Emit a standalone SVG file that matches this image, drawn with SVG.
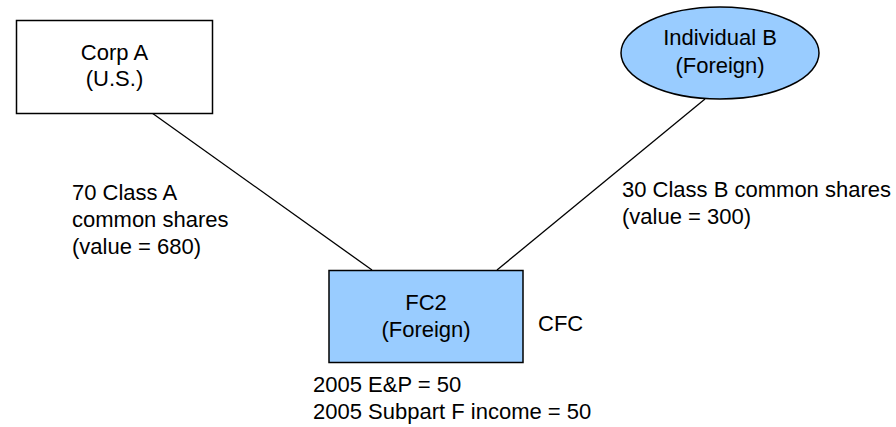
<svg xmlns="http://www.w3.org/2000/svg" width="896" height="427" viewBox="0 0 896 427">
<style>
text{font-family:"Liberation Sans",Arial,sans-serif;font-size:22px;fill:#000}
.c{text-anchor:middle}
.n{stroke:#000;stroke-width:1.5}
.e{stroke:#000;stroke-width:1.3;fill:none}
</style>
<rect width="896" height="427" fill="#fff"/>
<g id="connectors">
<line class="e" x1="152" y1="113" x2="372" y2="270"/>
<line class="e" x1="705" y1="99" x2="497" y2="270"/>
</g>
<g id="corpA">
<rect class="n" x="16.5" y="20.5" width="196" height="93" fill="#fff"/>
<text class="c" x="114.5" y="60">Corp A</text>
<text class="c" x="114.5" y="86">(U.S.)</text>
</g>
<g id="individualB">
<ellipse class="n" cx="720" cy="53" rx="99" ry="46" fill="#99CCFF"/>
<text class="c" x="720" y="45">Individual B</text>
<text class="c" x="720" y="73">(Foreign)</text>
</g>
<g id="fc2">
<rect class="n" x="329" y="270.5" width="194" height="92" fill="#99CCFF"/>
<text class="c" x="426" y="310">FC2</text>
<text class="c" x="426" y="337">(Foreign)</text>
</g>
<g id="labels">
<text x="72" y="200">70 Class A</text>
<text x="72" y="227">common shares</text>
<text x="72" y="254">(value = 680)</text>
<text x="622" y="197">30 Class B common shares</text>
<text x="622" y="224">(value = 300)</text>
<text x="538" y="331">CFC</text>
<text x="313" y="392">2005 E&amp;P = 50</text>
<text x="313" y="419">2005 Subpart F income = 50</text>
</g>
</svg>
